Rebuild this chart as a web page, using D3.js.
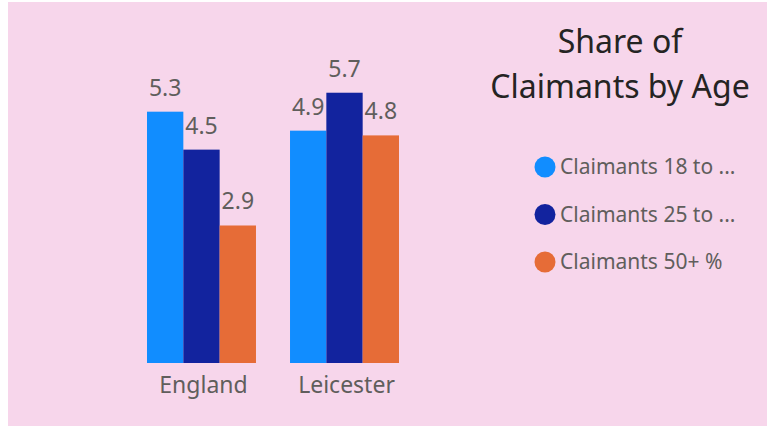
<!DOCTYPE html>
<html>
<head>
<meta charset="utf-8">
<script src="https://cdn.jsdelivr.net/npm/d3@7"></script>
<style>
  body { margin: 0; background: #fff; }
  svg { display: block; font-family: "Segoe UI", "Noto Sans", sans-serif; }
</style>
</head>
<body>
<svg id="chart" width="771" height="426"></svg>
<script>
const areas = ["England", "Leicester"];
const seriesNames = ["Claimants 18 to ...", "Claimants 25 to ...", "Claimants 50+ %"];
const age18to24 = [5.3, 4.9];
const age25to49 = [4.5, 5.7];
const age50plus = [2.9, 4.8];
const colors = ["#118DFF", "#12239E", "#E66C37"];
const titleLines = ["Share of", "Claimants by Age"];

const series = [age18to24, age25to49, age50plus];
const rows = areas.map((a, i) => ({ area: a, values: series.map((s) => s[i]) }));

let svg = d3.select("#chart");

// pink panel
svg.append("rect")
  .attr("x", 8).attr("y", 2)
  .attr("width", 759).attr("height", 424)
  .attr("fill", "#F7D6EB");

let x = d3.scaleBand().domain(areas).range([147, 399]).paddingInner(0.238).paddingOuter(0);
let xs = d3.scaleBand().domain(d3.range(series.length)).range([0, x.bandwidth()]);
let y = d3.scaleLinear().domain([0, 6]).range([363, 78.5]);

let groups = svg.append("g")
  .selectAll("g")
  .data(rows)
  .enter()
  .append("g")
  .attr("transform", (d) => "translate(" + x(d.area) + ",0)");

groups.selectAll("rect")
  .data((d) => d.values)
  .enter()
  .append("rect")
  .attr("x", (d, i) => xs(i))
  .attr("y", (d) => y(d))
  .attr("width", xs.bandwidth())
  .attr("height", (d) => y(0) - y(d))
  .attr("fill", (d, i) => colors[i]);

groups.selectAll("text")
  .data((d) => d.values)
  .enter()
  .append("text")
  .attr("x", (d, i) => xs(i) + xs.bandwidth() / 2)
  .attr("y", (d) => y(d) - 16)
  .attr("text-anchor", "middle")
  .attr("font-size", "23px")
  .attr("fill", "#605E5C")
  .text((d) => d.toFixed(1));

// x axis labels
let xAxis = svg.append("g")
  .attr("transform", "translate(2,363)")
  .call(d3.axisBottom(x).tickSize(0).tickPadding(14));
xAxis.select(".domain").remove();
xAxis.selectAll("text")
  .attr("font-size", "23px")
  .attr("font-family", "\"Segoe UI\", \"Noto Sans\", sans-serif")
  .attr("fill", "#605E5C");

// title
svg.append("g")
  .selectAll("text")
  .data(titleLines)
  .enter()
  .append("text")
  .attr("x", 620)
  .attr("y", (d, i) => 53 + i * 45)
  .attr("text-anchor", "middle")
  .attr("font-size", "32px")
  .attr("fill", "#252423")
  .text((d) => d);

// legend
let legend = svg.append("g")
  .selectAll("g")
  .data(seriesNames)
  .enter()
  .append("g")
  .attr("transform", (d, i) => "translate(545," + (167 + i * 47.5) + ")");

legend.append("circle")
  .attr("r", 10.5)
  .attr("fill", (d, i) => colors[i]);

legend.append("text")
  .attr("x", 15)
  .attr("dy", "0.35em")
  .attr("font-size", "21px")
  .attr("fill", "#605E5C")
  .text((d) => d);
</script>
</body>
</html>
